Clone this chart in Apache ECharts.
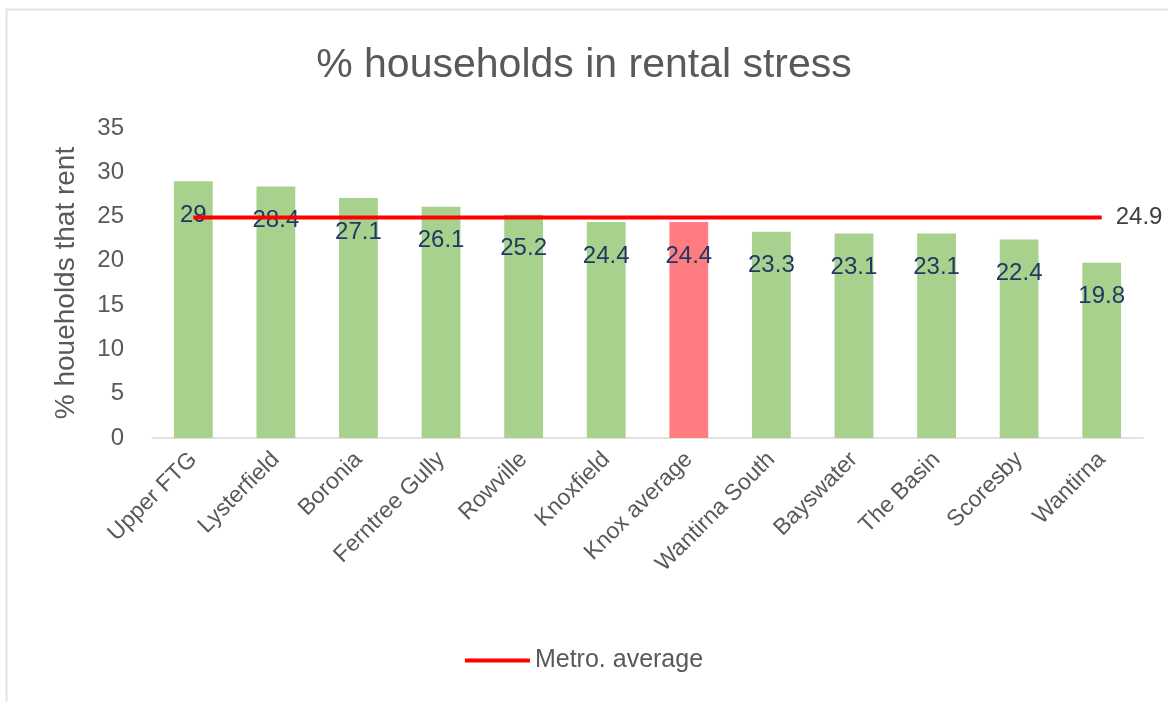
<!DOCTYPE html>
<html>
<head>
<meta charset="utf-8">
<script src="https://cdn.jsdelivr.net/npm/echarts@6/dist/echarts.min.js"></script>
<style>html,body{margin:0;padding:0;background:#fff}#c{width:1168px;height:702px}</style>
</head>
<body>
<div id="c"></div>
<script>
const categories = ['Upper FTG','Lysterfield','Boronia','Ferntree Gully','Rowville','Knoxfield','Knox average','Wantirna South','Bayswater','The Basin','Scoresby','Wantirna'];
const rentalStress = [29, 28.4, 27.1, 26.1, 25.2, 24.4, 24.4, 23.3, 23.1, 23.1, 22.4, 19.8];
const metroAverage = [24.9, 24.9, 24.9, 24.9, 24.9, 24.9, 24.9, 24.9, 24.9, 24.9, 24.9, 24.9];
const highlightCategory = 'Knox average';
const yTicks = [0, 5, 10, 15, 20, 25, 30, 35];

const FONT = '"Liberation Sans", Arial, sans-serif';
const chart = echarts.init(document.getElementById('c'));
chart.setOption({
  animation: false,
  backgroundColor: '#fff',
  textStyle: { fontFamily: FONT },
  graphic: [
    { type: 'line', shape: { x1: 6, y1: 9.5, x2: 1168, y2: 9.5 }, style: { stroke: '#E4E4E4', lineWidth: 2 }, silent: true },
    { type: 'line', shape: { x1: 6.5, y1: 9, x2: 6.5, y2: 702 }, style: { stroke: '#E4E4E4', lineWidth: 2 }, silent: true }
  ],
  title: {
    text: '% households in rental stress',
    left: 'center', top: 40,
    textStyle: { fontFamily: FONT, fontSize: 41, fontWeight: 'normal', color: '#595959' }
  },
  legend: {
    bottom: 24, left: 'center',
    data: [{ name: 'Metro. average', icon: 'rect' }],
    itemWidth: 65, itemHeight: 4, itemGap: 10,
    textStyle: { fontFamily: FONT, fontSize: 25, color: '#595959' }
  },
  grid: { left: 152, right: 25, top: 128, bottom: 264 },
  xAxis: {
    type: 'category',
    data: categories,
    axisLine: { lineStyle: { color: '#D9D9D9', width: 1.5 } },
    axisTick: { show: false },
    axisLabel: { rotate: 45, fontFamily: FONT, fontSize: 23, color: '#595959', margin: 18, interval: 0 }
  },
  yAxis: {
    type: 'value',
    min: yTicks[0], max: yTicks[yTicks.length - 1], interval: 5,
    name: '% houeholds that rent',
    nameLocation: 'middle', nameGap: 72, nameRotate: 90,
    nameTextStyle: { fontFamily: FONT, fontSize: 28, color: '#595959' },
    axisLine: { show: false },
    axisTick: { show: false },
    splitLine: { show: false },
    axisLabel: { fontFamily: FONT, fontSize: 24, color: '#595959', margin: 28 }
  },
  series: [
    {
      name: 'Rental stress',
      type: 'bar',
      barWidth: '47%',
      data: rentalStress.map((v, i) => ({
        value: v,
        itemStyle: { color: categories[i] === highlightCategory ? '#FF7C80' : '#A9D18E' }
      })),
      label: {
        show: true, position: 'insideTop', distance: 22,
        fontFamily: FONT, fontSize: 24, color: '#1F3864'
      },
      z: 2
    },
    {
      name: 'Metro. average',
      type: 'line',
      data: metroAverage,
      symbol: 'none',
      lineStyle: { color: '#FF0000', width: 4 },
      itemStyle: { color: '#FF0000' },
      endLabel: {
        show: true, distance: 14,
        formatter: p => p.value,
        fontFamily: FONT, fontSize: 24, color: '#404040'
      },
      z: 3
    }
  ]
});
</script>
</body>
</html>
